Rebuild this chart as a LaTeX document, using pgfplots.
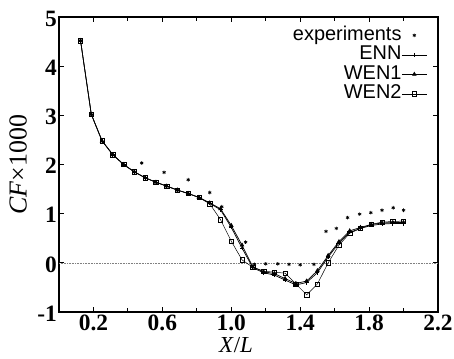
\documentclass[border=0pt]{standalone}
\usepackage{pgfplots}
\pgfplotsset{compat=1.18}
\usepackage{fontspec}
\setmainfont{Liberation Serif}
\newfontfamily\legfont{Liberation Sans}
\begin{document}
\begin{tikzpicture}
\begin{axis}[
  at={(0,0)}, anchor=south west,
  scale only axis, width=379bp, height=295bp,
  xmin=0, xmax=2.2, ymin=-1, ymax=5,
  xtick={0.2,0.6,1.0,1.4,1.8,2.2},
  minor xtick={0.4,0.8,1.2,1.6,2.0},
  xticklabels={0.2,0.6,1.0,1.4,1.8,2.2},
  ytick={-1,0,1,2,3,4,5},
  yticklabels={-1,0,1,2,3,4,5},
  tick align=inside,
  major tick length=5bp, minor tick length=4bp,
  axis line style={line width=1.3pt},
  every tick/.style={black, line width=0.9pt},
  /pgf/number format/assume math mode=true,
  ticklabel style={font=\fontsize{23.5}{23.5}\selectfont\bfseries},
  yticklabel style={inner sep=1bp, xshift=-1bp, yshift=-1.5bp},
  xticklabel style={inner sep=1bp, yshift=-2bp},
  xlabel={\textit{X}/\textit{L}},
  ylabel={\textit{CF}×1000},
  xlabel style={font=\fontsize{23}{23}\selectfont, at={(axis description cs:0.467,-0.136)}, anchor=base, inner sep=0pt},
  ylabel style={font=\fontsize{26}{26}\selectfont, at={(axis description cs:-0.108,0.5)}, anchor=center, inner sep=0pt},
  legend style={draw=none, fill=none, at={(axis description cs:0.972,0.969)}, anchor=north east,
    font=\legfont\fontsize{20}{20}\selectfont, inner sep=0pt,
    nodes={inner sep=0pt, text height=14bp, text depth=4bp},
    row sep=1.5bp},
  legend cell align=right,
  legend plot pos=right,
  /tikz/every even column/.append style={column sep=4bp},
  legend image code/.code={\draw[mark repeat=2,mark phase=2,#1] plot coordinates {(0bp,0bp) (12.5bp,0bp) (25bp,0bp)};},
]
\addplot[gray, densely dotted, line width=0.6pt, forget plot] coordinates {(0,0) (2.2,0)};
\addplot[only marks, mark=asterisk, mark size=1.8bp, black, line width=0.7pt] coordinates {
(0.48,2.03) (0.61,1.84) (0.75,1.69) (0.875,1.43) (0.945,1.14) (1.083,0.42)
(1.135,-0.03) (1.20,-0.02) (1.27,-0.02) (1.335,-0.03) (1.40,-0.04) (1.48,-0.03)
(1.55,0.64) (1.61,0.70) (1.675,0.92) (1.745,0.99) (1.81,1.02) (1.875,1.07) (1.94,1.12) (2.0,1.07)
};
\addlegendentry{experiments}
\addplot[black, line width=0.7pt, mark=+, mark size=2bp] coordinates {
(0.125,4.52) (0.1875,3.02) (0.25,2.48) (0.3125,2.20) (0.375,2.00) (0.4375,1.85)
(0.5,1.73) (0.5625,1.64) (0.625,1.56) (0.6875,1.48) (0.75,1.41) (0.8125,1.33)
(0.875,1.21) (0.9375,1.08) (1.0,0.72) (1.0625,0.30) (1.125,-0.10) (1.1875,-0.20)
(1.25,-0.25) (1.3125,-0.35) (1.375,-0.45) (1.4375,-0.40) (1.5,-0.20) (1.5625,0.12)
(1.625,0.40) (1.6875,0.62) (1.75,0.70) (1.8125,0.76) (1.875,0.79) (1.9375,0.80) (2.0,0.80)
};
\addlegendentry{ENN}
\addplot[black, line width=0.7pt, mark=triangle*, mark size=2bp] coordinates {
(0.125,4.52) (0.1875,3.02) (0.25,2.48) (0.3125,2.20) (0.375,2.00) (0.4375,1.85)
(0.5,1.73) (0.5625,1.64) (0.625,1.56) (0.6875,1.48) (0.75,1.41) (0.8125,1.33)
(0.875,1.22) (0.9375,1.10) (1.0,0.76) (1.0625,0.36) (1.125,-0.08) (1.1875,-0.18)
(1.25,-0.22) (1.3125,-0.32) (1.375,-0.42) (1.4375,-0.37) (1.5,-0.16) (1.5625,0.15)
(1.625,0.43) (1.6875,0.65) (1.75,0.72) (1.8125,0.78) (1.875,0.81) (1.9375,0.82) (2.0,0.82)
};
\addlegendentry{WEN1}
\addplot[black, line width=0.5pt, mark=square, mark size=2.2bp, mark options={fill=white}] coordinates {
(0.125,4.52) (0.1875,3.02) (0.25,2.48) (0.3125,2.20) (0.375,2.00) (0.4375,1.85)
(0.5,1.73) (0.5625,1.64) (0.625,1.56) (0.6875,1.48) (0.75,1.41) (0.8125,1.33)
(0.875,1.20) (0.9375,0.88) (1.0,0.44) (1.0625,0.06) (1.125,-0.09) (1.1875,-0.17)
(1.25,-0.19) (1.3125,-0.21) (1.375,-0.43) (1.4375,-0.65) (1.5,-0.43) (1.5625,0.0)
(1.625,0.36) (1.6875,0.60) (1.75,0.70) (1.8125,0.78) (1.875,0.83) (1.9375,0.84) (2.0,0.85)
};
\addlegendentry{WEN2}
\end{axis}
\pgfresetboundingbox
\path[use as bounding box] (-59bp,-47bp) rectangle (395bp,312bp);
\end{tikzpicture}
\end{document}
